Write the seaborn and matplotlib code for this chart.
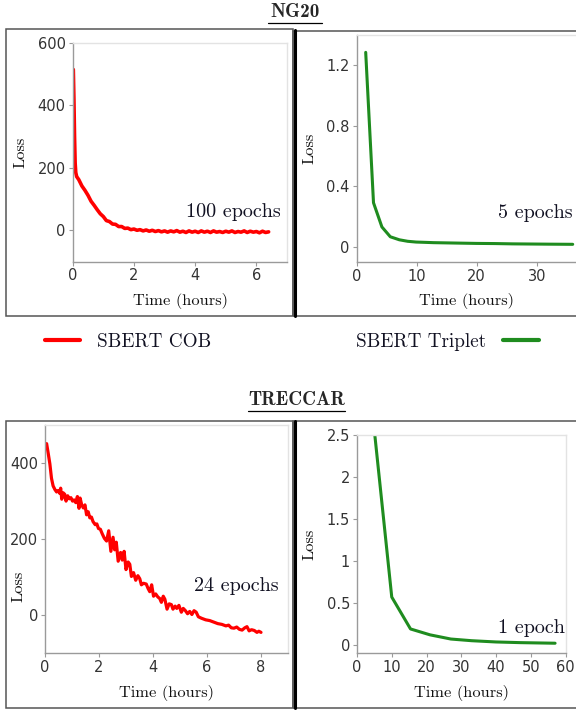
# plot.py
# Training loss vs. time: SBERT COB vs SBERT Triplet on NG20 and TRECCAR.

import matplotlib
matplotlib.use('Agg')
import matplotlib.pyplot as plt
from matplotlib.lines import Line2D
from matplotlib.patches import Rectangle
from matplotlib.ticker import FuncFormatter
import seaborn as sns

# ── data ────────────────────────────────────────────────────────────────
ng20_cob_t = [0.02, 0.04, 0.06, 0.08, 0.10, 0.13, 0.2, 0.3, 0.4, 0.5, 0.6, 0.7, 0.8, 0.9,
              1.0, 1.1, 1.2, 1.3, 1.4, 1.5, 1.6, 1.7, 1.8, 1.9, 2.0, 2.1, 2.2, 2.3, 2.4,
              2.5, 2.6, 2.7, 2.8, 2.9, 3.0, 3.1, 3.2, 3.3, 3.4, 3.5, 3.6, 3.7, 3.8, 3.9,
              4.0, 4.1, 4.2, 4.3, 4.4, 4.5, 4.6, 4.7, 4.8, 4.9, 5.0, 5.1, 5.2, 5.3, 5.4,
              5.5, 5.6, 5.7, 5.8, 5.9, 6.0, 6.1, 6.2, 6.3, 6.4]
ng20_cob_loss = [515, 420, 300, 215, 185, 172, 162, 142, 128, 112, 93, 80, 66, 53,
                 44, 31, 28, 20, 19, 12, 12, 6, 7, 2, 4, 0, 2, -2, 1,
                 -3, 0, -4, -1, -5, -2, -6, -2, -5, -1, -6, -3, -7, -2, -6,
                 -3, -7, -2, -6, -3, -7, -2, -6, -4, -7, -3, -6, -2, -7, -4,
                 -6, -2, -7, -3, -6, -4, -8, -3, -7, -5]

ng20_tri_t = [1.5, 2.8, 4.2, 5.6, 7.1, 8.5, 9.9, 11.4, 12.8, 14.2, 17, 20, 23, 26, 29, 32, 36]
ng20_tri_loss = [1.285, 0.29, 0.13, 0.065, 0.045, 0.035, 0.03, 0.028, 0.026, 0.025,
                 0.023, 0.021, 0.02, 0.018, 0.017, 0.016, 0.015]

trec_cob_t = [0.06, 0.12, 0.18, 0.24, 0.30, 0.37, 0.43, 0.49, 0.55, 0.58, 0.62, 0.67,
              0.73, 0.78, 0.84, 0.90, 0.96, 1.02, 1.08, 1.14, 1.20, 1.26, 1.30, 1.36,
              1.42, 1.48, 1.54, 1.60, 1.66, 1.72, 1.78, 1.86, 1.92, 1.98, 2.05, 2.12,
              2.20, 2.28, 2.36, 2.44, 2.52, 2.58, 2.64, 2.71, 2.80, 2.86, 2.93, 3.00,
              3.08, 3.14, 3.20, 3.28, 3.36, 3.44, 3.51, 3.57, 3.65, 3.75, 3.82, 3.88,
              3.95, 4.02, 4.10, 4.18, 4.25, 4.31, 4.38, 4.44, 4.52, 4.60, 4.68, 4.74,
              4.82, 4.88, 4.96, 5.05, 5.12, 5.20, 5.28, 5.36, 5.44, 5.52, 5.60, 5.68,
              5.80, 5.95, 6.10, 6.25, 6.40, 6.55, 6.70, 6.80, 6.90, 7.00, 7.10, 7.20,
              7.30, 7.40, 7.48, 7.56, 7.65, 7.75, 7.85, 7.92, 8.00]
trec_cob_loss = [451, 425, 398, 360, 340, 330, 324, 328, 320, 334, 305, 322,
                 318, 300, 314, 306, 309, 300, 303, 296, 312, 281, 308, 290,
                 282, 290, 264, 272, 256, 258, 246, 238, 240, 228, 226, 214,
                 202, 195, 222, 168, 205, 172, 192, 142, 165, 145, 168, 120,
                 140, 134, 102, 112, 92, 104, 96, 80, 84, 82, 70, 62,
                 80, 50, 56, 48, 44, 34, 50, 42, 16, 30, 28, 16,
                 24, 18, 26, 8, 18, 12, 4, 10, 2, 12, 8, -4,
                 -8, -12, -14, -18, -22, -24, -28, -26, -33, -34, -31, -37,
                 -39, -33, -30, -41, -38, -40, -45, -42, -45]

trec_tri_t = [5.0, 10.0, 15.4, 21, 27, 33, 40, 47, 57]
trec_tri_loss = [2.55, 0.57, 0.19, 0.12, 0.07, 0.05, 0.035, 0.027, 0.02]

series_names = ['SBERT COB', 'SBERT Triplet']
epoch_notes = ['100 epochs', '5 epochs', '24 epochs', '1 epoch']
dataset_titles = ['NG20', 'TRECCAR']

RED = '#ff0000'
GREEN = '#1f8c1f'

# ── style ───────────────────────────────────────────────────────────────
sns.set_style('white')
plt.rcParams['font.family'] = ['DejaVu Sans']

W, H = 576, 711
fig = plt.figure(figsize=(W / 100, H / 100), dpi=100)


def fbox(x0, y0, x1, y1):
    # pixel box (top-left origin) -> figure fraction [l, b, w, h]
    return [x0 / W, 1 - y1 / H, (x1 - x0) / W, (y1 - y0) / H]


def fxy(x, y):
    return x / W, 1 - y / H


def style_axes(ax, box, ylab_xy, xlab_xy):
    x0, y0, x1, y1 = box
    for side in ['left', 'bottom']:
        ax.spines[side].set_color('#9a9a9a')
        ax.spines[side].set_linewidth(1.0)
    for side in ['top', 'right']:
        ax.spines[side].set_color('#e3e3e3')
        ax.spines[side].set_linewidth(1.0)
    ax.tick_params(axis='both', length=3, width=0.8, color='#9a9a9a',
                   labelcolor='#333333', labelsize=10.5, pad=2,
                   left=True, bottom=True)
    ax.yaxis.set_major_formatter(FuncFormatter(lambda v, p: f'{v:g}'))
    ax.set_xlabel('Time (hours)', family='cmr10', fontsize=11.8, color='#111111')
    ax.set_ylabel('Loss', family='cmr10', fontsize=11.8, color='#111111')
    ax.xaxis.label.set_va('center')
    ax.yaxis.label.set_va('center')
    ax.yaxis.set_label_coords((ylab_xy[0] - x0) / (x1 - x0), (y1 - ylab_xy[1]) / (y1 - y0))
    ax.xaxis.set_label_coords((xlab_xy[0] - x0) / (x1 - x0), (y1 - xlab_xy[1]) / (y1 - y0))


# ── panels ──────────────────────────────────────────────────────────────
box1 = (72.7, 43, 287, 261.5)
ax1 = fig.add_axes(fbox(*box1))
sns.lineplot(x=ng20_cob_t, y=ng20_cob_loss, ax=ax1, color=RED, lw=2.6,
             label=series_names[0], legend=False)
ax1.set_xlim(0, 7)
ax1.set_ylim(-100, 600)
ax1.set_xticks([0, 2, 4, 6])
ax1.set_yticks([0, 200, 400, 600])
style_axes(ax1, box1, (21, 152), (180, 301))

box2 = (356.7, 35, 578.7, 261.7)
ax2 = fig.add_axes(fbox(*box2))
sns.lineplot(x=ng20_tri_t, y=ng20_tri_loss, ax=ax2, color=GREEN, lw=2.2,
             label=series_names[1], legend=False)
ax2.set_xlim(0, 37)
ax2.set_ylim(-0.1, 1.4)
ax2.set_xticks([0, 10, 20, 30])
ax2.set_yticks([0, 0.4, 0.8, 1.2])
style_axes(ax2, box2, (310, 148), (466.7, 301))

box3 = (45, 425, 288, 653.3)
ax3 = fig.add_axes(fbox(*box3))
sns.lineplot(x=trec_cob_t, y=trec_cob_loss, ax=ax3, color=RED, lw=2.3, legend=False)
ax3.set_xlim(0, 9)
ax3.set_ylim(-100, 500)
ax3.set_xticks([0, 2, 4, 6, 8])
ax3.set_yticks([0, 200, 400])
style_axes(ax3, box3, (19, 586), (166.7, 693))

box4 = (357, 435, 565.5, 653.3)
ax4 = fig.add_axes(fbox(*box4))
sns.lineplot(x=trec_tri_t, y=trec_tri_loss, ax=ax4, color=GREEN, lw=2.2, legend=False)
ax4.set_xlim(0, 60)
ax4.set_ylim(-0.1, 2.5)
ax4.set_xticks([0, 10, 20, 30, 40, 50, 60])
ax4.set_yticks([0, 0.5, 1, 1.5, 2, 2.5])
style_axes(ax4, box4, (310, 544), (461.7, 693))

# ── epoch notes ─────────────────────────────────────────────────────────
for (px, py), note in zip([(233, 212), (535, 213), (236.7, 586), (531.7, 628)], epoch_notes):
    fig.text(*fxy(px, py), note, family='cmr10', fontsize=14.5, color='#111122',
             ha='center', va='center')

# ── frames around panels ────────────────────────────────────────────────
for (x0, y0, x1, y1) in [(6, 29.5, 293, 316), (293, 30.5, 582, 316),
                         (6, 421, 293, 708), (293, 421, 582, 708)]:
    fig.add_artist(Rectangle(fxy(x0, y1), (x1 - x0) / W, (y1 - y0) / H,
                             transform=fig.transFigure, fill=False,
                             edgecolor='#555555', lw=1.1))
for (y0, y1) in [(29.5, 316), (421, 708)]:
    fig.add_artist(Line2D([294.5 / W, 294.5 / W], [1 - y0 / H, 1 - y1 / H],
                          transform=fig.transFigure, color='black', lw=2.2))

# ── titles with underline ───────────────────────────────────────────────
for title, (cx, cy), (ux0, ux1, uy) in zip(dataset_titles,
                                           [(295, 12), (296.5, 400)],
                                           [(268, 322, 22.5), (248, 345, 411)]):
    fig.text(*fxy(cx, cy), title, family='cmb10', fontsize=13.8, ha='center', va='center')
    fig.add_artist(Line2D([ux0 / W, ux1 / W], [1 - uy / H, 1 - uy / H],
                          transform=fig.transFigure, color='black', lw=0.9))

# ── legend (split in two) ───────────────────────────────────────────────
h1, l1 = ax1.get_legend_handles_labels()
h2, l2 = ax2.get_legend_handles_labels()
leg1 = fig.legend(h1, l1, loc='center', bbox_to_anchor=fxy(128, 342), frameon=False,
                  prop={'family': 'cmr10', 'size': 13.8}, handlelength=1.85,
                  handletextpad=0.85, borderpad=0, borderaxespad=0)
leg2 = fig.legend(h2, l2, loc='center', bbox_to_anchor=fxy(447.5, 342), frameon=False,
                  prop={'family': 'cmr10', 'size': 13.8}, handlelength=1.85,
                  handletextpad=0.9, borderpad=0, borderaxespad=0, markerfirst=False)
for leg in (leg1, leg2):
    for h in leg.legend_handles:
        h.set_linewidth(3)
    for t in leg.get_texts():
        t.set_color('#111122')

fig.savefig('out.png', dpi=100)
plt.close(fig)
